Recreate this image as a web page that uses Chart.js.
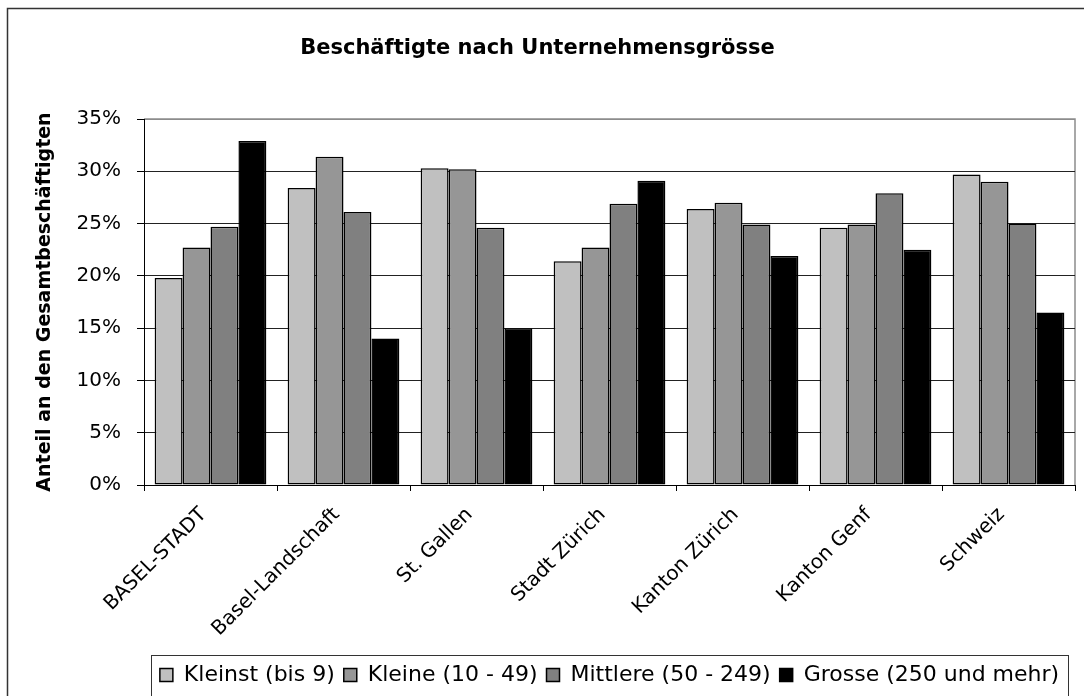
<!DOCTYPE html>
<html>
<head>
<meta charset="utf-8">
<title>Beschäftigte nach Unternehmensgrösse</title>
<script src="https://cdn.jsdelivr.net/npm/chart.js@4/dist/chart.umd.min.js"></script>
<style>
  body { margin: 0; background: #fff; }
  canvas { display: block; }
</style>
</head>
<body>
<canvas id="chart" width="1084" height="696"></canvas>
<script>
const categories = ['BASEL-STADT', 'Basel-Landschaft', 'St. Gallen', 'Stadt Zürich', 'Kanton Zürich', 'Kanton Genf', 'Schweiz'];

// Anteil in Prozent
const kleinst = [19.8, 28.4, 30.3, 21.4, 26.4, 24.6, 29.7];
const kleine = [22.7, 31.4, 30.2, 22.7, 27.0, 24.9, 29.0];
const mittlere = [24.7, 26.1, 24.6, 26.9, 24.9, 27.9, 25.0];
const grosse = [32.9, 14.0, 15.0, 29.1, 21.9, 22.5, 16.5];

const seriesNames = ['Kleinst (bis 9)', 'Kleine (10 - 49)', 'Mittlere (50 - 249)', 'Grosse (250 und mehr)'];
const seriesColors = ['#c0c0c0', '#969696', '#808080', '#000000'];
const yTicks = [0, 5, 10, 15, 20, 25, 30, 35];

Chart.defaults.font.family = "'DejaVu Sans', sans-serif";
Chart.defaults.color = '#000';

// outer frame + grey plot-area border + box round the legend
const framePlugin = {
  id: 'frame',
  beforeDraw(chart) {
    const ctx = chart.ctx;
    ctx.save();
    ctx.fillStyle = '#fff';
    ctx.fillRect(0, 0, chart.width, chart.height);
    ctx.strokeStyle = '#333';
    ctx.lineWidth = 1.5;
    ctx.beginPath();
    ctx.moveTo(7.5, chart.height);
    ctx.lineTo(7.5, 8.5);
    ctx.lineTo(chart.width, 8.5);
    ctx.stroke();
    const a = chart.chartArea;
    ctx.strokeStyle = '#8c8c8c';
    ctx.lineWidth = 1.5;
    ctx.beginPath();
    ctx.moveTo(a.left, a.top);
    ctx.lineTo(a.right, a.top);
    ctx.lineTo(a.right, a.bottom);
    ctx.stroke();
    ctx.restore();
  },
  afterDraw(chart) {
    const lg = chart.legend;
    if (!lg || !lg.legendHitBoxes.length) return;
    const boxes = lg.legendHitBoxes;
    const first = boxes[0];
    const last = boxes[boxes.length - 1];
    const ctx = chart.ctx;
    ctx.save();
    ctx.strokeStyle = '#333';
    ctx.lineWidth = 1;
    ctx.strokeRect(Math.round(first.left - 9) + 0.5, Math.round(lg.top) + 0.5,
      Math.round(last.left + last.width - first.left + 18), lg.height + 10);
    ctx.restore();
  }
};

const values = [kleinst, kleine, mittlere, grosse];

new Chart(document.getElementById('chart'), {
  type: 'bar',
  data: {
    labels: categories,
    datasets: values.map((v, i) => ({
      label: seriesNames[i],
      data: v,
      backgroundColor: seriesColors[i],
      borderColor: '#000',
      borderWidth: 1.5,
      borderSkipped: false,
      categoryPercentage: 0.84,
      barPercentage: 1.0
    }))
  },
  options: {
    responsive: false,
    animation: false,
    devicePixelRatio: 1,
    layout: { padding: { top: 0, left: 0, right: 9, bottom: 0 } },
    plugins: {
      title: {
        display: true,
        text: 'Beschäftigte nach Unternehmensgrösse',
        color: '#000',
        font: { size: 21, weight: 'bold' },
        padding: { top: 36, bottom: 57.8 }
      },
      legend: {
        position: 'bottom',
        fullSize: false,
        labels: {
          color: '#000',
          font: { size: 22 },
          boxWidth: 13,
          boxHeight: 13,
          padding: 9
        }
      },
      tooltip: { enabled: false }
    },
    scales: {
      x: {
        grid: {
          offset: true,
          drawOnChartArea: false,
          drawTicks: true,
          tickLength: 6,
          color: '#000'
        },
        border: { color: '#000', width: 1 },
        ticks: {
          font: { size: 20 },
          color: '#000',
          minRotation: 45,
          maxRotation: 45,
          padding: 12,
          labelOffset: -7,
          autoSkip: false
        },
        afterFit(scale) { scale.height = 170; }
      },
      y: {
        min: 0,
        max: 35,
        grid: {
          color: ctx => (ctx.tick && ctx.tick.value === 35 ? '#8c8c8c' : '#222'),
          lineWidth: 1,
          tickLength: 7,
          tickColor: '#000'
        },
        border: { color: '#000', width: 1 },
        ticks: {
          stepSize: 5,
          font: { size: 20 },
          color: '#000',
          padding: 16,
          callback: v => (yTicks.includes(v) ? `${v}%` : '')
        },
        title: {
          display: true,
          text: 'Anteil an den Gesamtbeschäftigten',
          color: '#000',
          font: { size: 19, weight: 'bold' },
          padding: { top: 34, bottom: 0 }
        },
        afterFit(scale) { scale.width = 144; }
      }
    }
  },
  plugins: [framePlugin]
});
</script>
</body>
</html>
